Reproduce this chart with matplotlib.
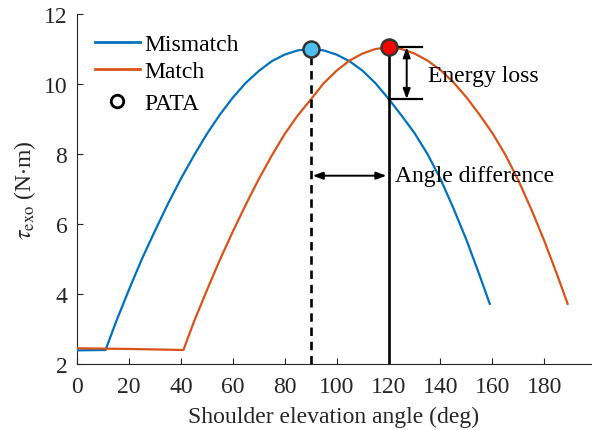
import matplotlib
matplotlib.use('Agg')
import matplotlib.pyplot as plt
from matplotlib.lines import Line2D

plt.rcParams['font.family'] = ['Liberation Serif', 'DejaVu Serif']
plt.rcParams['mathtext.fontset'] = 'stix'

# shoulder elevation angle (deg) and exoskeleton torque (N.m)
ang_mis = [0, 11, 15, 20, 25, 30, 35, 40, 45, 50, 55, 60, 65, 70, 75, 80, 85, 90,
           95, 100, 105, 110, 115, 120, 125, 130, 135, 140, 145, 150, 155, 159]
tau_mis = [2.39, 2.40, 3.20, 4.12, 5.00, 5.80, 6.57, 7.29, 7.95, 8.57, 9.12, 9.61,
           10.03, 10.37, 10.65, 10.84, 10.96, 11.00, 10.96, 10.84, 10.65, 10.38,
           10.02, 9.58, 9.10, 8.60, 8.00, 7.29, 6.45, 5.55, 4.55, 3.72]

ang_mat = [0, 20, 41, 45, 50, 55, 60, 65, 70, 75, 80, 85, 90, 95, 100, 105, 110, 115,
           120, 125, 130, 135, 140, 145, 150, 155, 160, 165, 170, 175, 180, 185, 189]
tau_mat = [2.45, 2.43, 2.40, 3.20, 4.10, 4.97, 5.78, 6.55, 7.28, 7.95, 8.57, 9.10,
           9.55, 10.02, 10.38, 10.67, 10.87, 11.00, 11.05, 11.00, 10.87, 10.67,
           10.40, 10.05, 9.62, 9.13, 8.60, 7.98, 7.25, 6.42, 5.52, 4.54, 3.72]

pata_mis = (90, 11.0)
pata_mat = (120, 11.05)
loss_low = 9.57
arrow_y = 7.38

blue = '#0072BD'
orange = '#D95319'
grey = '#262626'
fs = 17

fig = plt.figure(figsize=(5.92, 4.31), dpi=100)
ax = fig.add_axes([77/592, 66/431, 514/592, 350/431])

ax.plot(ang_mis, tau_mis, color=blue, lw=1.6, zorder=3)
ax.plot(ang_mat, tau_mat, color=orange, lw=1.6, zorder=3)

# PATA lines
ax.plot([pata_mis[0], pata_mis[0]], [2, pata_mis[1]], color='black', lw=1.9,
        ls=(0, (3.2, 2.2)), zorder=4)
ax.plot([pata_mat[0], pata_mat[0]], [2, pata_mat[1]], color='black', lw=1.9, zorder=4)

ax.plot(*pata_mis, 'o', ms=11.5, mfc='#4DBEEE', mec='#333333', mew=1.8, zorder=6)
ax.plot(*pata_mat, 'o', ms=11.5, mfc='#FF0000', mec='#333333', mew=1.8, zorder=6)

# energy loss bracket
ax.plot([pata_mat[0], 133], [pata_mat[1], pata_mat[1]], color='black', lw=1.6, zorder=5)
ax.plot([pata_mat[0], 133], [loss_low, loss_low], color='black', lw=1.6, zorder=5)
ax.annotate('', xy=(127, loss_low), xytext=(127, pata_mat[1]),
            arrowprops=dict(arrowstyle='<|-|>,head_length=0.6,head_width=0.22',
                            color='black', lw=1.4, shrinkA=0, shrinkB=0))
ax.text(135.3, 10.25, 'Energy loss', fontsize=fs, va='center', ha='left')

# angle difference arrow
ax.annotate('', xy=(119.2, arrow_y), xytext=(90.8, arrow_y),
            arrowprops=dict(arrowstyle='<|-|>,head_length=0.6,head_width=0.22',
                            color='black', lw=1.4, shrinkA=0, shrinkB=0))
ax.text(122.6, arrow_y, 'Angle difference', fontsize=fs, va='center', ha='left')

ax.set_xlim(0, 198)
ax.set_ylim(2, 12)
ax.set_xticks(range(0, 181, 20))
ax.set_yticks(range(2, 13, 2))
ax.tick_params(direction='in', labelsize=fs, colors=grey, length=4, width=0.8)
ax.tick_params(axis='x', pad=9)
ax.tick_params(axis='y', pad=7)
for s in ['top', 'right']:
    ax.spines[s].set_visible(False)
for s in ['left', 'bottom']:
    ax.spines[s].set_color(grey)
    ax.spines[s].set_linewidth(0.8)

ax.set_xlabel('Shoulder elevation angle (deg)', fontsize=fs, color=grey, labelpad=6)
ax.set_ylabel(r'$\tau_{\mathrm{exo}}$ (N$\cdot$m)', fontsize=fs, color=grey, labelpad=4)

h_lines = [Line2D([], [], color=blue, lw=2), Line2D([], [], color=orange, lw=2)]
leg1 = ax.legend(h_lines, ['Mismatch', 'Match'], loc='upper left',
                 bbox_to_anchor=(0.035, 0.943), frameon=False, fontsize=fs,
                 handlelength=1.9, handletextpad=0.17, labelspacing=0.22,
                 borderpad=0, borderaxespad=0)
ax.add_artist(leg1)
h_pata = [Line2D([], [], ls='none', marker='o', ms=9, mfc='none', mec='black', mew=2)]
ax.legend(h_pata, ['PATA'], loc='upper left',
          bbox_to_anchor=(0.035, 0.776), frameon=False, fontsize=fs,
          handlelength=1.9, handletextpad=0.17, borderpad=0, borderaxespad=0)

fig.savefig('out.png', dpi=100)
